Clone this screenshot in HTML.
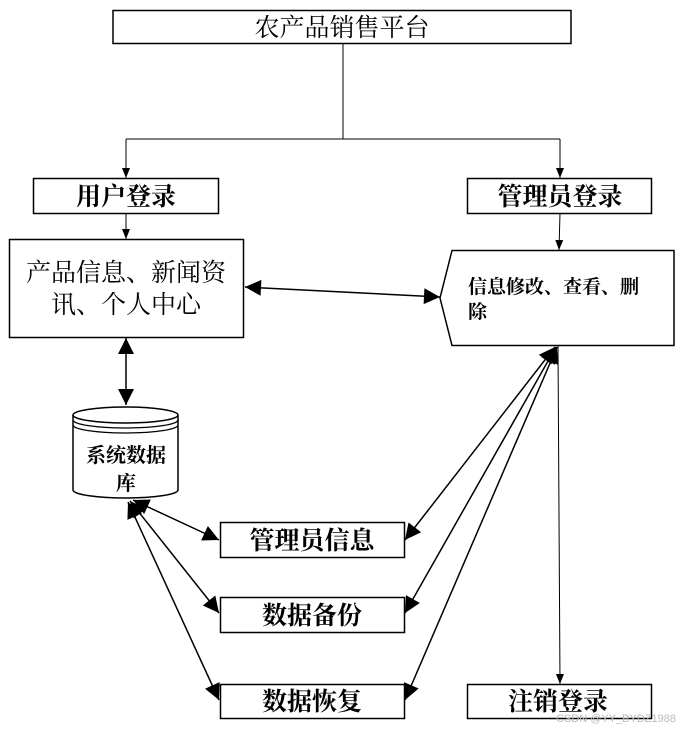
<!DOCTYPE html>
<html><head><meta charset="utf-8"><style>
html,body{margin:0;padding:0;background:#fff;}
svg{display:block;}
.s{font-family:"Liberation Serif","Noto Serif CJK SC",serif;}
.b{font-family:"Liberation Serif","Noto Serif CJK SC",serif;font-weight:bold;}
</style></head><body>
<svg width="684" height="730" viewBox="0 0 684 730" xmlns="http://www.w3.org/2000/svg">
<defs>
<marker id="a" viewBox="0 0 10 10" refX="10" refY="5" markerWidth="10" markerHeight="10" markerUnits="userSpaceOnUse" orient="auto-start-reverse"><path d="M0,1 L10,5 L0,9 z" fill="#000"/></marker>
<marker id="A" viewBox="0 0 10 10" refX="10" refY="5" markerWidth="20" markerHeight="16" markerUnits="userSpaceOnUse" orient="auto-start-reverse"><path d="M0,0 L10,5 L0,10 z" fill="#000"/></marker>
</defs>
<g fill="none" stroke="#000">
<rect x="113" y="10.5" width="458" height="33" stroke-width="1.5"/>
<path d="M343,43 V139 M126,139 H560" stroke-width="1"/>
<line x1="126" y1="139" x2="126" y2="178" marker-end="url(#a)"/>
<line x1="560" y1="139" x2="560" y2="178" marker-end="url(#a)"/>
<rect x="33.5" y="178.5" width="185" height="35" stroke-width="1.5"/>
<rect x="467.5" y="178.5" width="184" height="35" stroke-width="1.5"/>
<line x1="126" y1="213" x2="126" y2="239" marker-end="url(#a)"/>
<line x1="560" y1="213" x2="559" y2="250" marker-end="url(#a)"/>
<rect x="9.5" y="239.5" width="234" height="98" stroke-width="1.5"/>
<path d="M452,250.5 H674 V345.5 H452 L440,298 Z" stroke-width="1.5"/>
<line x1="245" y1="287" x2="440" y2="297" stroke-width="1.5" marker-start="url(#A)" marker-end="url(#A)"/>
<line x1="126" y1="338" x2="126" y2="405" stroke-width="1.5" marker-start="url(#A)" marker-end="url(#A)"/>
<path d="M73,415 V490 A52.5,8 0 0 0 178,490 V415" stroke-width="1.5"/>
<ellipse cx="125.5" cy="415" rx="52.5" ry="8" stroke-width="1.5"/>
<path d="M73,420 A52.5,8 0 0 0 178,420 M73,425 A52.5,8 0 0 0 178,425" stroke-width="1.3"/>
<rect x="220.5" y="522.5" width="184" height="35" stroke-width="1.5"/>
<rect x="220.5" y="597.5" width="184" height="35" stroke-width="1.5"/>
<rect x="220.5" y="684.5" width="184" height="34" stroke-width="1.5"/>
<rect x="467.5" y="684.5" width="184" height="34" stroke-width="1.5"/>
<line x1="133" y1="500" x2="219" y2="540" stroke-width="1.5" marker-start="url(#A)" marker-end="url(#A)"/>
<line x1="130" y1="501" x2="219" y2="613" stroke-width="1.5" marker-start="url(#A)" marker-end="url(#A)"/>
<line x1="128" y1="502" x2="219" y2="700" stroke-width="1.5" marker-start="url(#A)" marker-end="url(#A)"/>
<line x1="555" y1="347" x2="405" y2="540" stroke-width="1.5" marker-start="url(#A)" marker-end="url(#A)"/>
<line x1="556" y1="347" x2="405" y2="613" stroke-width="1.5" marker-start="url(#A)" marker-end="url(#A)"/>
<line x1="557" y1="347" x2="405" y2="700" stroke-width="1.5" marker-start="url(#A)" marker-end="url(#A)"/>
<line x1="558" y1="346" x2="560" y2="684" stroke-width="1" marker-end="url(#a)"/>
</g>
<g fill="#000" text-anchor="middle">
<text x="342" y="36" font-size="25" class="s">农产品销售平台</text>
<text x="126" y="205" font-size="25" class="b">用户登录</text>
<text x="560" y="205" font-size="25" class="b">管理员登录</text>
<text x="126" y="281" font-size="25" class="s">产品信息、新闻资</text>
<text x="126" y="313" font-size="25" class="s">讯、个人中心</text>
<text x="126" y="462" font-size="20" class="b">系统数据</text>
<text x="126" y="490" font-size="20" class="b">库</text>
<text x="312" y="549" font-size="25" class="b">管理员信息</text>
<text x="312" y="624" font-size="25" class="b">数据备份</text>
<text x="312" y="710" font-size="25" class="b">数据恢复</text>
<text x="558" y="710" font-size="25" class="b">注销登录</text>
</g>
<text x="468" y="293" font-size="19" class="b">信息修改、查看、删</text>
<text x="468" y="318" font-size="19" class="b">除</text>
<text x="676" y="722" font-size="11" fill="#bbb" text-anchor="end" font-family="Liberation Sans, sans-serif">CSDN @YY_BYDZ1988</text>
</svg>
</body></html>
